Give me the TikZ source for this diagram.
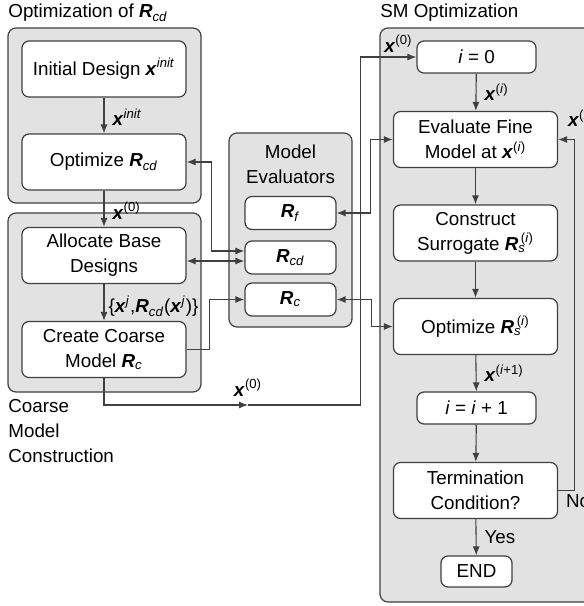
\documentclass[tikz,border=0pt]{standalone}
\usepackage{fontspec}
\setmainfont{Liberation Sans}
\usetikzlibrary{arrows.meta,
                positioning}
\definecolor{grpfill}{RGB}{226,226,226}
\definecolor{edge}{RGB}{64,64,64}
\newcommand{\vx}{\textbf{\textit{x}}}
\newcommand{\vR}{\textbf{\textit{R}}}
\newcommand{\sps}[1]{\textsuperscript{#1}}
\newcommand{\sbs}[1]{\textsubscript{\textit{#1}}}

\tikzset{
  grp/.style={draw=edge, fill=grpfill, line width=0.6pt, rounded corners=4pt},
  blk/.style={draw=edge, fill=white, line width=0.6pt, rounded corners=3.5pt,
              align=center, inner sep=1pt},
  wide/.style={blk, minimum width=82pt, minimum height=28pt},
  narrow/.style={blk, minimum width=59.5pt, minimum height=16pt},
  evalbox/.style={blk, minimum width=45.5pt, minimum height=16.5pt},
  lbl/.style={inner sep=1pt},
  flow/.style={draw=edge, line width=0.55pt, -{Latex[length=4.5pt,width=3.5pt]}},
  both/.style={flow, {Latex[length=4.5pt,width=3.5pt]}-{Latex[length=4.5pt,width=3.5pt]}},
}

\begin{document}
\begin{tikzpicture}[x=0.5pt,y=-0.5pt, font=\fontsize{9.4pt}{12.5pt}\selectfont]
\useasboundingbox (0,0) rectangle (584,606);

% group panels
\draw[grp] (8,28) rectangle (201,203);
\draw[grp] (8,213) rectangle (201,392);
\draw[grp] (229,133) rectangle (352,327);
\draw[grp] (380,28) rectangle (610,602);

\node[lbl, anchor=west] (tcd) at (6,13) {Optimization of \vR\sbs{cd}};
\node[lbl, anchor=west] (tsm) at (378,13) {SM Optimization};
\node[lbl, align=center] (tev) at (290.5,164) {Model\\Evaluators};
\node[lbl, anchor=north west, align=left] (tcm) at (6,397) {Coarse\\Model\\Construction};

% left column
\node[wide] (initd) at (104,69) {Initial Design \vx\sps{\textit{init}}};
\node[wide] (optcd) at (104,162) {Optimize \vR\sbs{cd}};
\node[wide] (alloc) at (104,255.5) {Allocate Base\\Designs};
\node[wide] (coarse) at (104,349.5) {Create Coarse\\Model \vR\sbs{c}};

% evaluators
\node[evalbox] (Rf) at (290.5,213) {\vR\sbs{f}};
\node[evalbox] (Rcd) at (290.5,257.5) {\vR\sbs{cd}};
\node[evalbox] (Rc) at (290.5,299.5) {\vR\sbs{c}};

% SM loop
\node[narrow] (izero) at (476.5,57) {\textit{i} = 0};
\node[wide] (evalf) at (475.5,139.5) {Evaluate Fine\\Model at \vx\sps{(\textit{i})}};
\node[wide] (surr) at (475.5,233) {Construct\\Surrogate \vR\sbs{s}\kern-2.5pt\sps{(\textit{i})}};
\node[wide] (optrs) at (475.5,326.5) {Optimize \vR\sbs{s}\kern-2.5pt\sps{(\textit{i})}};
\node[narrow] (iinc) at (476.5,408) {\textit{i} = \textit{i} + 1};
\node[wide] (term) at (475.5,490.5) {Termination\\Condition?};
\node[blk, minimum width=35.5pt, minimum height=15.5pt] (fin) at (476.5,571.5) {END};

\draw[flow] (initd) -- (optcd) node[lbl, pos=0.55, right=3pt] {\vx\sps{\textit{init}}};
\draw[flow] (optcd) -- (alloc) node[lbl, pos=0.55, right=3pt] {\vx\sps{(0)}};
\draw[flow] (alloc) -- (coarse)
  node[lbl, pos=0.6, right=1pt] {\{\vx\sps{\textit{j}},\vR\sbs{cd}(\vx\sps{\textit{j}})\}};

\draw[both] (optcd.east) -- ++(25,0) |- ([yshift=3.25pt]Rcd.west);
\draw[both] ([yshift=-1.75pt]Rcd.west) -- ([yshift=-1.75pt]Rcd.west -| alloc.east);
\draw[flow] (coarse.east) -- ++(23,0) |- (Rc.west);
\draw[both] (Rf.east) -- ++(34,0) |- (evalf.west);
\draw[both] (Rc.east) -- ++(35,0) |- (optrs.west);

\coordinate (xmid) at (248,405);
\draw[flow] (coarse.south) |- (xmid) node[lbl, above=3pt] {\vx\sps{(0)}};
\draw[flow] (xmid) -| ([xshift=-28pt]izero.west) -- (izero.west)
  node[lbl, pos=0.68, above=1pt] {\vx\sps{(0)}};

\draw[flow] (izero) -- (evalf) node[lbl, midway, right=3pt] {\vx\sps{(\textit{i})}};
\draw[flow] (evalf) -- (surr);
\draw[flow] (surr) -- (optrs);
\draw[flow] (optrs) -- (iinc) node[lbl, midway, right=3pt] {\vx\sps{(\textit{i}+1)}};
\draw[flow] (iinc) -- (term);
\draw[flow] (term) -- (fin) node[lbl, midway, right=3pt] {Yes};
\draw[flow] (term.east) -- ++(16,0) node[lbl, below=1pt, xshift=2pt] {No}
  |- (evalf.east) node[lbl, pos=0.5, above=5pt, xshift=3pt] {\vx\sps{(\textit{i})}};
\end{tikzpicture}
\end{document}
